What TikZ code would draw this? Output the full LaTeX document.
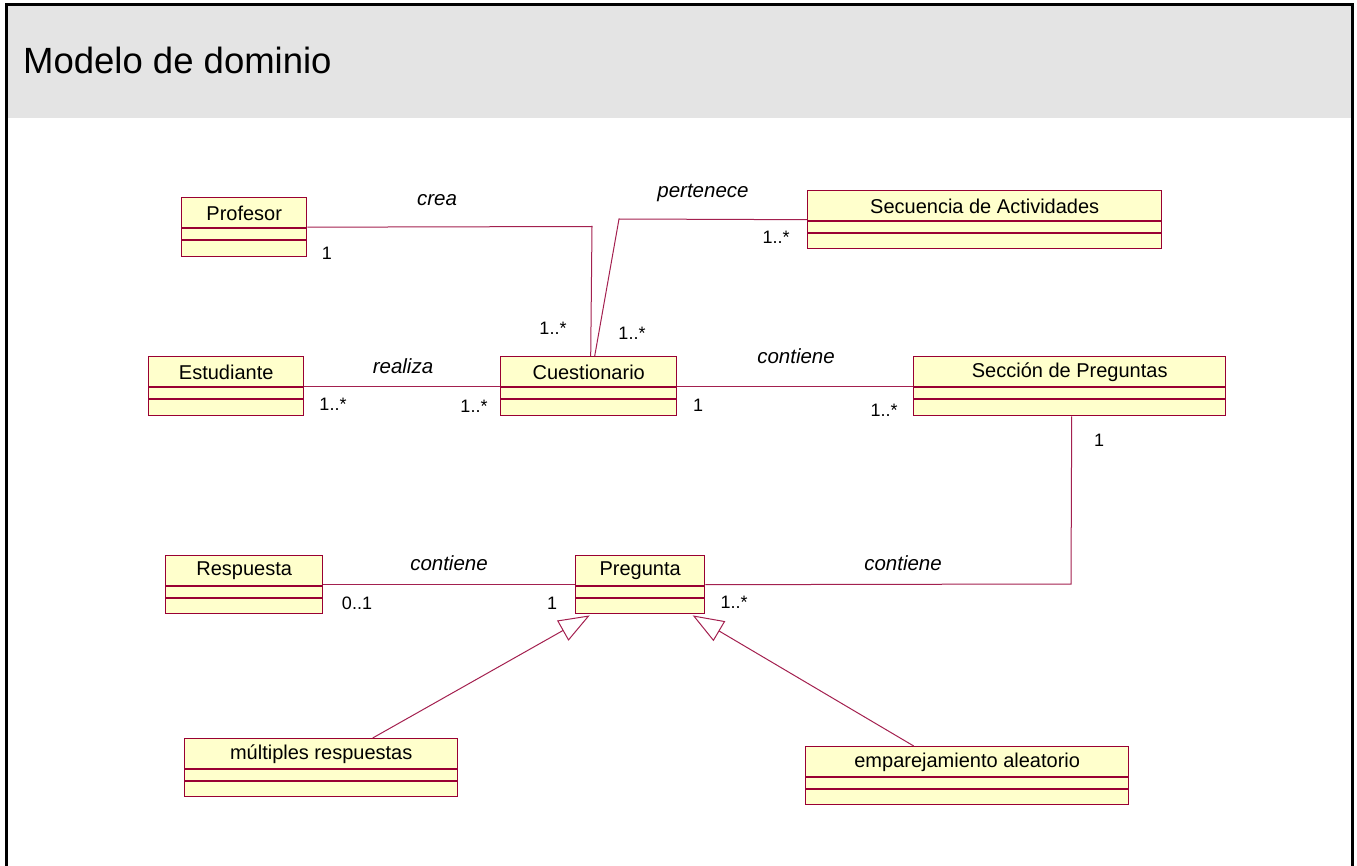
\documentclass[tikz,border=0pt]{standalone}
\usepackage{fontspec}
\setmainfont{Liberation Sans}
\usetikzlibrary{arrows.meta}
\definecolor{classfill}{HTML}{FFFFCC}
\definecolor{classedge}{HTML}{990033}
\definecolor{linkcol}{HTML}{A3204F}
\definecolor{headgray}{HTML}{E4E4E4}
\tikzset{
  classbox/.style={draw=classedge, fill=classfill, line width=1.4pt, inner sep=0pt, anchor=north west},
  compline/.style={draw=classedge, line width=1.1pt},
  classname/.style={font=\fontsize{20}{24}\selectfont, inner sep=0pt},
  assoc/.style={draw=linkcol, line width=1pt},
  generalize/.style={draw=linkcol, line width=1pt, -{Triangle[open, length=31pt, width=23pt, line width=1pt]}},
  rolename/.style={font=\fontsize{20.5}{24}\selectfont\itshape, inner sep=0pt},
  mult/.style={font=\fontsize{18}{22}\selectfont, inner sep=0pt},
}
% class symbol: name, left, top, width, height, label
\newcommand{\umlclass}[6]{%
  \node[classbox, minimum width=#4pt, minimum height=#5pt] (#1) at (#2,#3) {};
  \draw[compline] ([yshift=-31pt]#1.north west) -- ([yshift=-31pt]#1.north east);
  \draw[compline] ([yshift=-43pt]#1.north west) -- ([yshift=-43pt]#1.north east);
  \node[classname] at ([yshift=-16pt]#1.north) {#6};
}
\begin{document}
\begin{tikzpicture}[x=1pt, y=-1pt]
  \useasboundingbox (0,0) rectangle (1357,866);
  % page frame with header band
  \fill[headgray] (6.5,5) rectangle (1352,118);
  \draw[black, line width=3pt] (6.5,875) -- (6.5,5) -- (1352,5) -- (1352,875);
  \node[font=\fontsize{36.5}{40}\selectfont, anchor=west, inner sep=0pt] (title) at (23,60) {Modelo de dominio};

  % classes
  \umlclass{prof}{181}{197}{125}{59}{Profesor}
  \umlclass{seq}{807}{190}{354}{58}{Secuencia de Actividades}
  \umlclass{est}{148}{356}{155}{59}{Estudiante}
  \umlclass{cues}{500}{356}{176}{59}{Cuestionario}
  \umlclass{secc}{913}{356}{312}{59}{Secci\'on de Preguntas}
  \umlclass{resp}{165}{555}{157}{58}{Respuesta}
  \umlclass{preg}{575}{555}{129}{58}{Pregunta}
  \umlclass{mult}{184}{738}{273}{58}{m\'ultiples respuestas}
  \umlclass{empa}{805}{746}{323}{58}{emparejamiento aleatorio}

  % bends of the associations
  \coordinate (creaBend) at (592,226.5);
  \coordinate (pertBend) at (619,219);
  \coordinate (seccDrop) at (1071,584);

  % associations
  \draw[assoc] (prof.east) -- (creaBend) -- ([xshift=2pt]cues.north);
  \draw[assoc] ([xshift=6pt]cues.north) -- (pertBend) -- (seq.west);
  \draw[assoc] (est.east) -- (cues.west);
  \draw[assoc] (cues.east) -- (secc.west);
  \draw[assoc] ([xshift=2pt]secc.south) -- (seccDrop) -- (preg.east);
  \draw[assoc] (resp.east) -- (preg.west);

  % generalizations
  \draw[generalize] ([xshift=51.5pt]mult.north) -- ([xshift=-50.5pt,yshift=-1pt]preg.south);
  \draw[generalize] ([xshift=-53.5pt]empa.north) -- ([xshift=52.5pt,yshift=-1pt]preg.south);

  % association names
  \node[rolename] (lcrea) at (437,200) {crea};
  \node[rolename] (lpert) at (703,193) {pertenece};
  \node[rolename] (lreal) at (403,366) {realiza};
  \node[rolename] (lcont1) at (796,356) {contiene};
  \node[rolename] (lcont2) at (449,563) {contiene};
  \node[rolename] (lcont3) at (903,563) {contiene};

  % multiplicities
  \node[mult] (m1) at (327,253) {1};
  \node[mult] (m2) at (553,328) {1..*};
  \node[mult] (m3) at (632,333) {1..*};
  \node[mult] (m4) at (776,237) {1..*};
  \node[mult] (m5) at (333,404) {1..*};
  \node[mult] (m6) at (474,406) {1..*};
  \node[mult] (m7) at (698,405) {1};
  \node[mult] (m8) at (884,410) {1..*};
  \node[mult] (m9) at (1099,440) {1};
  \node[mult] (m10) at (357,603) {0..1};
  \node[mult] (m11) at (552,603) {1};
  \node[mult] (m12) at (734,602) {1..*};
\end{tikzpicture}
\end{document}
